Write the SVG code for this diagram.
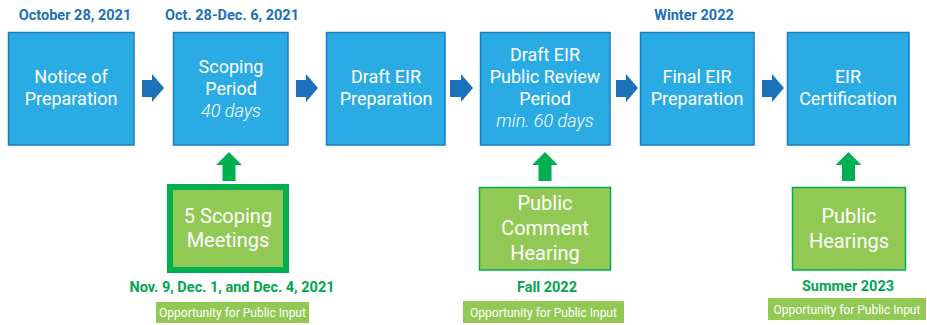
<svg xmlns="http://www.w3.org/2000/svg" width="927" height="325" viewBox="0 0 927 325">
<style>
.step{fill:#2aabe3;stroke:#1c7cc0;stroke-width:1.5}
.st{font-family:Roboto,"Liberation Sans",Arial,sans-serif;font-size:18px;fill:#fff;text-anchor:middle}
.it{font-style:italic;font-weight:300}
.date{font-family:Roboto,"Liberation Sans",Arial,sans-serif;font-size:14.5px;font-weight:bold;fill:#2170b6;text-anchor:middle}
.gdate{font-family:Roboto,"Liberation Sans",Arial,sans-serif;font-size:14.5px;font-weight:bold;fill:#00a651;text-anchor:middle}
.gbox{fill:#92c955;stroke:#00b050;stroke-width:1.5}
.gt{font-family:Roboto,"Liberation Sans",Arial,sans-serif;font-size:20px;fill:#fff;text-anchor:middle}
.opp{fill:#92c955}
.ot{font-family:Roboto,"Liberation Sans",Arial,sans-serif;font-size:12px;fill:#fff;text-anchor:middle}
.barrow{fill:#1b72ba}
.garrow{fill:#00b050}
</style>
<rect width="927" height="325" fill="#fff"/>

<g id="dates">
<text class="date" x="75" y="20">October 28, 2021</text>
<text class="date" x="232" y="20">Oct. 28-Dec. 6, 2021</text>
<text class="date" x="694" y="20">Winter 2022</text>
</g>

<g id="n1">
<rect class="step" x="8.5" y="32.5" width="125.5" height="112.5"/>
<text class="st" x="71" y="83">Notice of</text>
<text class="st" x="71" y="105">Preparation</text>
</g>
<g id="n2">
<rect class="step" x="173.5" y="32.5" width="114.5" height="112.5"/>
<text class="st" x="231" y="73">Scoping</text>
<text class="st" x="231" y="95">Period</text>
<text class="st it" x="231" y="117">40 days</text>
</g>
<g id="n3">
<rect class="step" x="326.5" y="32.5" width="118.5" height="112.5"/>
<text class="st" x="386" y="83">Draft EIR</text>
<text class="st" x="386" y="105">Preparation</text>
</g>
<g id="n4">
<rect class="step" x="480.5" y="32.5" width="129.5" height="112.5"/>
<text class="st" x="545" y="61">Draft EIR</text>
<text class="st" x="545" y="83">Public Review</text>
<text class="st" x="545" y="105">Period</text>
<text class="st it" x="545" y="127">min. 60 days</text>
</g>
<g id="n5">
<rect class="step" x="640.5" y="32.5" width="113.5" height="112.5"/>
<text class="st" x="697" y="83">Final EIR</text>
<text class="st" x="697" y="105">Preparation</text>
</g>
<g id="n6">
<rect class="step" x="787.5" y="32.5" width="121.5" height="112.5"/>
<text class="st" x="848" y="83">EIR</text>
<text class="st" x="848" y="105">Certification</text>
</g>

<g id="g1">
<rect x="170" y="187" width="116" height="83" fill="#92c955" stroke="#00b050" stroke-width="6"/>
<text class="gt" x="228" y="223">5 Scoping</text>
<text class="gt" x="228" y="247">Meetings</text>
</g>
<g id="g2">
<rect class="gbox" x="479.5" y="187.5" width="131" height="82.5"/>
<text class="gt" x="545" y="210">Public</text>
<text class="gt" x="545" y="235">Comment</text>
<text class="gt" x="545" y="260">Hearing</text>
</g>
<g id="g3">
<rect class="gbox" x="792.5" y="187.5" width="113" height="82.5"/>
<text class="gt" x="849" y="223">Public</text>
<text class="gt" x="849" y="248">Hearings</text>
</g>

<g id="labels">
<text class="gdate" x="232" y="292">Nov. 9, Dec. 1, and Dec. 4, 2021</text>
<text class="gdate" x="547" y="292">Fall 2022</text>
<text class="gdate" x="848" y="291">Summer 2023</text>
<rect class="opp" x="156" y="302" width="153" height="21"/>
<text class="ot" x="232.5" y="317">Opportunity for Public Input</text>
<rect class="opp" x="463" y="301" width="161" height="22"/>
<text class="ot" x="543.5" y="317">Opportunity for Public Input</text>
<rect class="opp" x="768" y="298" width="158" height="22"/>
<text class="ot" x="847" y="313.5">Opportunity for Public Input</text>
</g>

<g id="connectors">
<polygon class="barrow" points="142,80 152,80 152,74 164,88 152,102 152,97 142,97"/>
<polygon class="barrow" points="296,80 306,80 306,74 318,88 306,102 306,97 296,97"/>
<polygon class="barrow" points="450,80 461,80 461,74 473,88 461,102 461,97 450,97"/>
<polygon class="barrow" points="616,80 626,80 626,74 638,88 626,102 626,97 616,97"/>
<polygon class="barrow" points="762,80 772,80 772,74 784,88 772,102 772,97 762,97"/>
<polygon class="garrow" points="229,152 242,165 235.5,165 235.5,181 222.5,181 222.5,165 216,165"/>
<polygon class="garrow" points="545,152 558,165 551.5,165 551.5,181 538.5,181 538.5,165 532,165"/>
<polygon class="garrow" points="848.5,152 861.5,165 855,165 855,181 842,181 842,165 835.5,165"/>
</g>
</svg>
